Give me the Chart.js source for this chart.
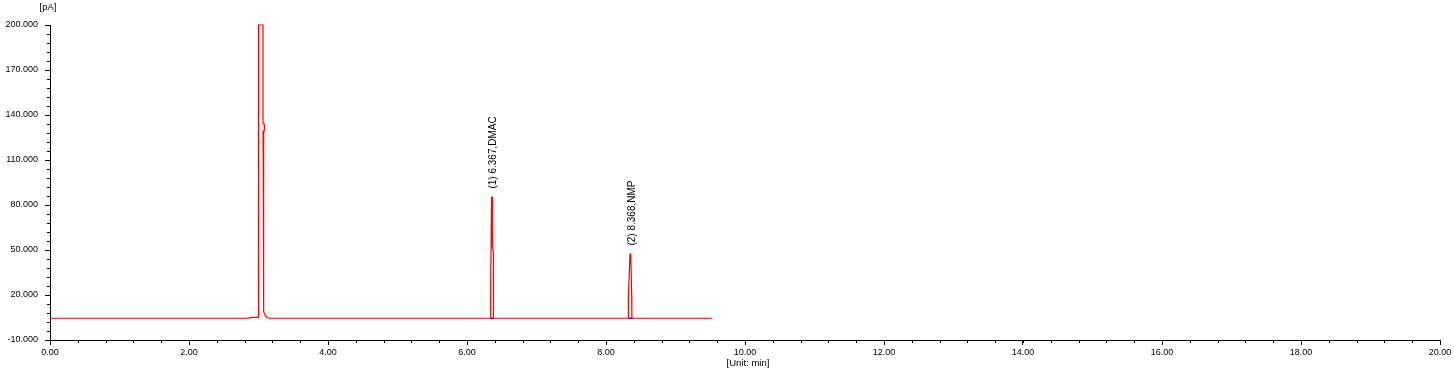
<!DOCTYPE html>
<html>
<head>
<meta charset="utf-8">
<script src="https://cdn.jsdelivr.net/npm/chart.js@4/dist/chart.umd.min.js"></script>
<style>
html,body{margin:0;padding:0;background:#fff;}
#wrap{width:1454px;height:375px;position:relative;}
</style>
</head>
<body>
<div id="wrap"><canvas id="c" width="1454" height="375"></canvas></div>
<script>
// ---- data ----
const traceTimes = [0.00, 2.875, 2.880, 2.995, 3.000, 3.065, 3.065, 3.084, 3.084, 3.066, 3.066, 3.077, 3.079, 3.090, 3.100, 3.120, 3.160,
  6.340, 6.341, 6.353, 6.362, 6.365, 6.380, 6.381,
  8.320, 8.322, 8.345, 8.356, 8.370, 8.372, 9.530];
const traceSignal = [4.5, 4.5, 5.1, 5.1, 200, 200, 134, 134, 129.5, 129.5, 125.5, 125.5, 9, 7, 6, 5, 4.5,
  4.5, 26.7, 85.3, 85.3, 52, 48, 4.5,
  4.5, 18.7, 47.3, 47.3, 18.7, 4.5, 4.5];
const markStart = [6.340, 8.330];
const markEnd = [6.390, 8.385];
const markLevel = [4.5, 4.5];
const peakTimes = [6.367, 8.368];
const peakApex = [85.3, 47.3];
const peakLabels = ['(1) 6.367,DMAC', '(2) 8.368,NMP'];
const xMin = 0, xMax = 20, xStep = 2, xMinorStep = 0.4;
const yMin = -10, yMax = 200, yStep = 30, yMinorStep = 6;
const yUnit = '[pA]';
const xUnit = '[Unit: min]';

const FONT = '"Liberation Sans", Arial, sans-serif';

const traceData = traceTimes.map((t, i) => ({x: t, y: traceSignal[i]}));
const markData = [];
markStart.forEach((s, i) => {
  markData.push({x: s, y: markLevel[i]}, {x: markEnd[i], y: markLevel[i]}, {x: markEnd[i], y: null});
});

const extras = {
  id: 'extras',
  afterDraw(chart) {
    const ctx = chart.ctx;
    const xs = chart.scales.x, ys = chart.scales.y;
    const ca = chart.chartArea;
    ctx.save();
    ctx.strokeStyle = '#000';
    ctx.lineWidth = 1;
    ctx.beginPath();
    for (let v = xMin; v <= xMax + 1e-9; v += xMinorStep) {
      const px = Math.round(xs.getPixelForValue(v)) + 0.5;
      ctx.moveTo(px, ca.bottom); ctx.lineTo(px, ca.bottom + 3);
    }
    for (let v = yMin; v <= yMax + 1e-9; v += yMinorStep) {
      const py = Math.round(ys.getPixelForValue(v)) + 0.5;
      ctx.moveTo(ca.left, py); ctx.lineTo(ca.left - 3, py);
    }
    ctx.stroke();
    ctx.fillStyle = '#000';
    ctx.font = '9.5px ' + FONT;
    ctx.textAlign = 'center';
    ctx.textBaseline = 'middle';
    ctx.fillText(yUnit, 48, 7);
    ctx.fillText(xUnit, 748, 363);
    ctx.font = '10px ' + FONT;
    ctx.textAlign = 'left';
    ctx.textBaseline = 'middle';
    peakTimes.forEach((t, i) => {
      const px = xs.getPixelForValue(t) + 1;
      const py = ys.getPixelForValue(peakApex[i]) - 8.5;
      ctx.save();
      ctx.translate(px, py);
      ctx.rotate(-Math.PI / 2);
      ctx.fillText(peakLabels[i], 0, 0);
      ctx.restore();
    });
    ctx.restore();
  }
};

new Chart(document.getElementById('c'), {
  type: 'line',
  data: {
    datasets: [
      {data: markData, borderColor: '#0000ff', borderWidth: 1.5, pointRadius: 0, tension: 0, spanGaps: false, clip: false, order: 2},
      {data: traceData, borderColor: '#ff0000', borderWidth: 1.2, pointRadius: 0, tension: 0, clip: false, order: 1}
    ]
  },
  options: {
    responsive: false,
    animation: false,
    events: [],
    layout: {padding: {top: 25, right: 14, left: 0, bottom: 0}},
    plugins: {legend: {display: false}, tooltip: {enabled: false}},
    scales: {
      x: {
        type: 'linear', min: xMin, max: xMax,
        afterFit(s) { s.height = 35; },
        border: {display: true, color: '#000', width: 1},
        grid: {display: true, drawOnChartArea: false, drawTicks: true, tickLength: 5, tickColor: '#000', tickWidth: 1},
        ticks: {stepSize: xStep, autoSkip: false, maxRotation: 0, padding: 2, color: '#000',
          font: {family: FONT, size: 9}, callback: v => Number(v).toFixed(2)}
      },
      y: {
        type: 'linear', min: yMin, max: yMax,
        afterFit(s) { s.width = 50; },
        border: {display: true, color: '#000', width: 1},
        grid: {display: true, drawOnChartArea: false, drawTicks: true, tickLength: 5, tickColor: '#000', tickWidth: 1},
        ticks: {stepSize: yStep, autoSkip: false, padding: 7, color: '#000',
          font: {family: FONT, size: 9}, callback: v => Number(v).toFixed(3)}
      }
    }
  },
  plugins: [extras]
});
</script>
</body>
</html>
